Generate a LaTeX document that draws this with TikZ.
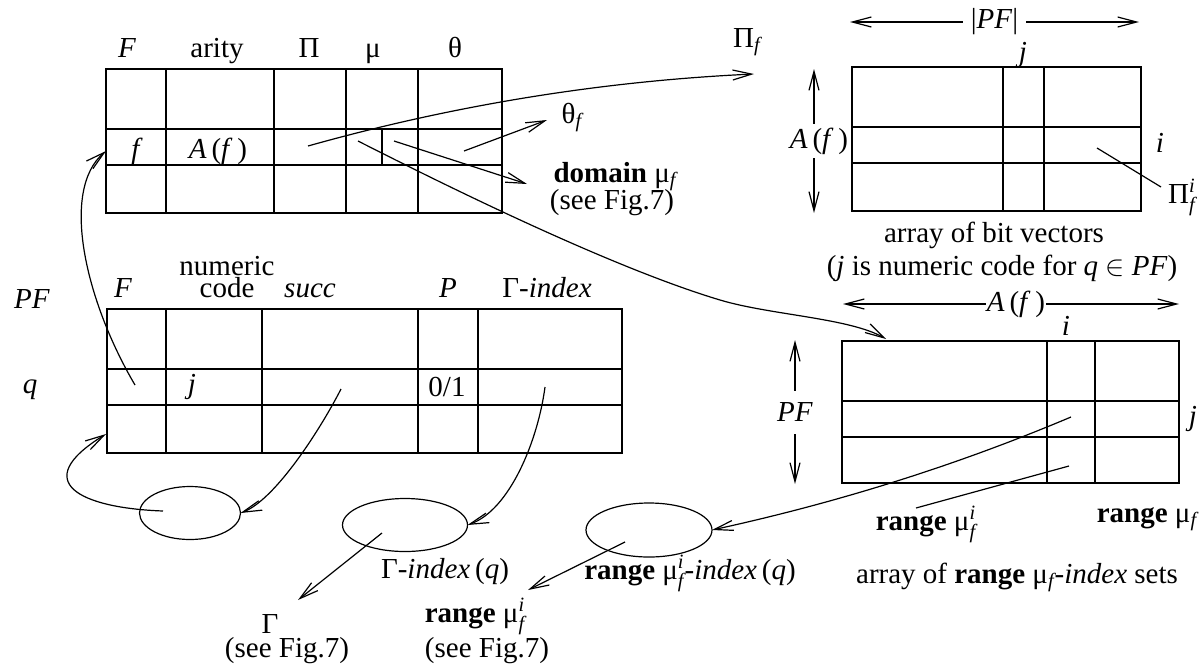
\documentclass[tikz,border=0pt]{standalone}
\usepackage{fontspec}
\setmainfont{Liberation Serif}
\usepackage{amsmath}
\usetikzlibrary{arrows.meta,shapes.geometric}

\newcommand{\fsub}{$_{\text{\itshape f}}$}
\newcommand{\fisub}{$_{\text{\itshape f}}^{\text{\itshape i}}$}
\newcommand{\Af}{\textit{A}\,(\textit{f}\,)}

\begin{document}
\begin{tikzpicture}[x=0.5pt, y=-0.5pt, line width=0.6pt,
  every node/.style={font=\fontsize{14.5}{17}\selectfont, inner sep=0pt},
  txt/.style={anchor=base},
  conn/.style={-{Straight Barb[length=9.5pt,width=5pt]}},
  dimarrow/.style={{Straight Barb[length=9.5pt,width=5pt]}-{Straight Barb[length=9.5pt,width=5pt]}},
  setoval/.style={draw, ellipse, inner sep=0pt, outer sep=0pt, minimum height=26.5pt},
  gaplabel/.style={fill=white, inner sep=1pt}]
\useasboundingbox (0,0) rectangle (1204,665);

% Function table
\draw (106,69) rectangle (502,213);
\foreach \y in {129,165} \draw (106,\y) -- (502,\y);
\foreach \x in {166,274,346,418} \draw (\x,69) -- (\x,213);
\draw (382,129) -- (382,165);
\node[txt] (ftF) at (127,57) {\textit{F}};
\node[txt] (ftArity) at (217,57) {arity};
\node[txt] (ftPi) at (309,57) {Π};
\node[txt] (ftMu) at (373,57) {μ};
\node[txt] (ftTheta) at (455,57) {θ};
\node[txt] (ftf) at (137,158) {\textit{f}};
\node[txt] (ftAf) at (218,158) {\Af};
\coordinate (piA) at (308,146);
\coordinate (muA) at (358,141);
\coordinate (dmA) at (394,141);
\coordinate (thA) at (464,151);
\coordinate (fRow) at (106,151);

% What the function row points to
\node[txt] (piF) at (747,47) {Π\fsub};
\node[txt] (thF) at (572,123) {θ\fsub};
\node[txt] (dmF) at (615,182) {\textbf{domain} μ\fsub};
\node[txt] (dmSee) at (612,209) {(see Fig.7)};
\coordinate (piB) at (754,74);
\coordinate (thB) at (547,120);
\coordinate (dmB) at (527,184);
\draw[conn] (piA) .. controls (454,105) and (603,81) .. (piB);
\draw[conn] (thA) -- (thB);
\draw[conn] (dmA) -- (dmB);

% Array of bit vectors
\draw (852,67) rectangle (1141,211);
\foreach \y in {127,163} \draw (852,\y) -- (1141,\y);
\foreach \x in {1003,1044} \draw (\x,67) -- (\x,211);
\coordinate (pfL) at (850,22);
\coordinate (pfR) at (1139,22);
\draw[dimarrow] (pfL) -- node[gaplabel, inner xsep=4pt] (pfW) {|\textit{PF}|} (pfR);
\coordinate (afT) at (814,69);
\coordinate (afB) at (814,213);
\draw[dimarrow] (afT) -- node[gaplabel, inner ysep=2pt, xshift=2.5pt] (afH) {\Af} (afB);
\node[txt] (bvj) at (1023,61) {\textit{j}};
\node[txt] (bvi) at (1160,152) {\textit{i}};
\node[txt] (piFi) at (1182,203) {Π\fisub};
\coordinate (bvCell) at (1097,148);
\coordinate (piFiTip) at (1161,187);
\draw (bvCell) -- (piFiTip);
\node[txt] (bvCap) at (994,242) {array of bit vectors};
\node[txt] (bvCap2) at (1002,275) {(\textit{j} is numeric code for \textit{q} $\in$ \textit{PF})};

% Predicate table
\draw (107,309) rectangle (622,453);
\foreach \y in {369,405} \draw (107,\y) -- (622,\y);
\foreach \x in {166,262,418,478} \draw (\x,309) -- (\x,453);
\node[txt] (ptPF) at (32,308) {\textit{PF}};
\node[txt] (ptq) at (30,393) {\textit{q}};
\node[txt] (ptF) at (123,297) {\textit{F}};
\node[align=center] (ptCode) at (227,277) {numeric\\[-6pt]code};
\node[txt] (ptSucc) at (310,297) {\textit{succ}};
\node[txt] (ptP) at (448,297) {\textit{P}};
\node[txt] (ptGi) at (547,297) {Γ-\textit{index}};
\node[txt] (ptj) at (192,393) {\textit{j}};
\node[txt] (ptBit) at (447,396) {0/1};
\coordinate (fcA) at (135,385);
\coordinate (scA) at (341,389);
\coordinate (giA) at (545,387);
\coordinate (qRow) at (106,434);
\draw[conn] (fcA) .. controls (85,300) and (60,190) .. (fRow);

% Sets
\node[setoval, minimum width=50.5pt] (succSet) at (190,513) {};
\node[setoval, minimum width=62.5pt] (giSet) at (405,525) {};
\node[setoval, minimum width=63pt, minimum height=27pt] (rmSet) at (649,530) {};
\coordinate (succIn) at (163,511);
\coordinate (giIn) at (382,533);
\coordinate (rmIn) at (625,542);
\draw[conn] (succIn) .. controls (80,508) and (28,482) .. (qRow);
\draw[conn] (scA) .. controls (320,430) and (275,500) .. (succSet.east);
\draw[conn] (giA) .. controls (538,440) and (510,510) .. (giSet.east);
\node[txt] (giQ) at (445,578) {Γ-\textit{index}\,(\textit{q})};
\node[txt] (rmQ) at (690,579) {\textbf{range} μ\fisub-\textit{index}\,(\textit{q})};
\node[txt] (gam) at (270,633) {Γ};
\node[txt] (gamSee) at (287,657) {(see Fig.7)};
\node[txt] (rmF) at (475,622) {\textbf{range} μ\fisub};
\node[txt] (rmSee) at (487,657) {(see Fig.7)};
\coordinate (gamTip) at (298,600);
\coordinate (rmTip) at (528,590);
\draw[conn] (giIn) -- (gamTip);
\draw[conn] (rmIn) -- (rmTip);

% Array of range sets
\draw (842,341) rectangle (1179,483);
\foreach \y in {401,437} \draw (842,\y) -- (1179,\y);
\foreach \x in {1047,1095} \draw (\x,341) -- (\x,483);
\coordinate (arL) at (843,304);
\coordinate (arR) at (1179,304);
\draw[dimarrow] (arL) -- node[gaplabel, inner sep=0.5pt, xshift=2.5pt] (arW) {\Af} (arR);
\coordinate (rpT) at (795,340);
\coordinate (rpB) at (795,484);
\draw[dimarrow] (rpT) -- node[gaplabel, inner ysep=6pt] (rpH) {\textit{PF}} (rpB);
\node[txt] (rai) at (1066,335) {\textit{i}};
\node[txt] (raj) at (1193,425) {\textit{j}};
\node[txt] (raCell) at (926,530) {\textbf{range} μ\fisub};
\node[txt] (raAll) at (1147,522) {\textbf{range} μ\fsub};
\node[txt] (raCap) at (1017,583) {array of \textbf{range} μ\fsub-\textit{index} sets};
\coordinate (muB) at (886,339);
\coordinate (raIn) at (1071,417);
\coordinate (raLow) at (1069,466);
\coordinate (raTip) at (916,508);
\draw[conn] (muA) .. controls (470,198) and (620,270) .. (720,300)
  .. controls (770,315) and (850,318) .. (muB);
\draw[conn] (raIn) .. controls (955,466) and (836,503) .. (rmSet.east);
\draw (raLow) -- (raTip);
\end{tikzpicture}
\end{document}
